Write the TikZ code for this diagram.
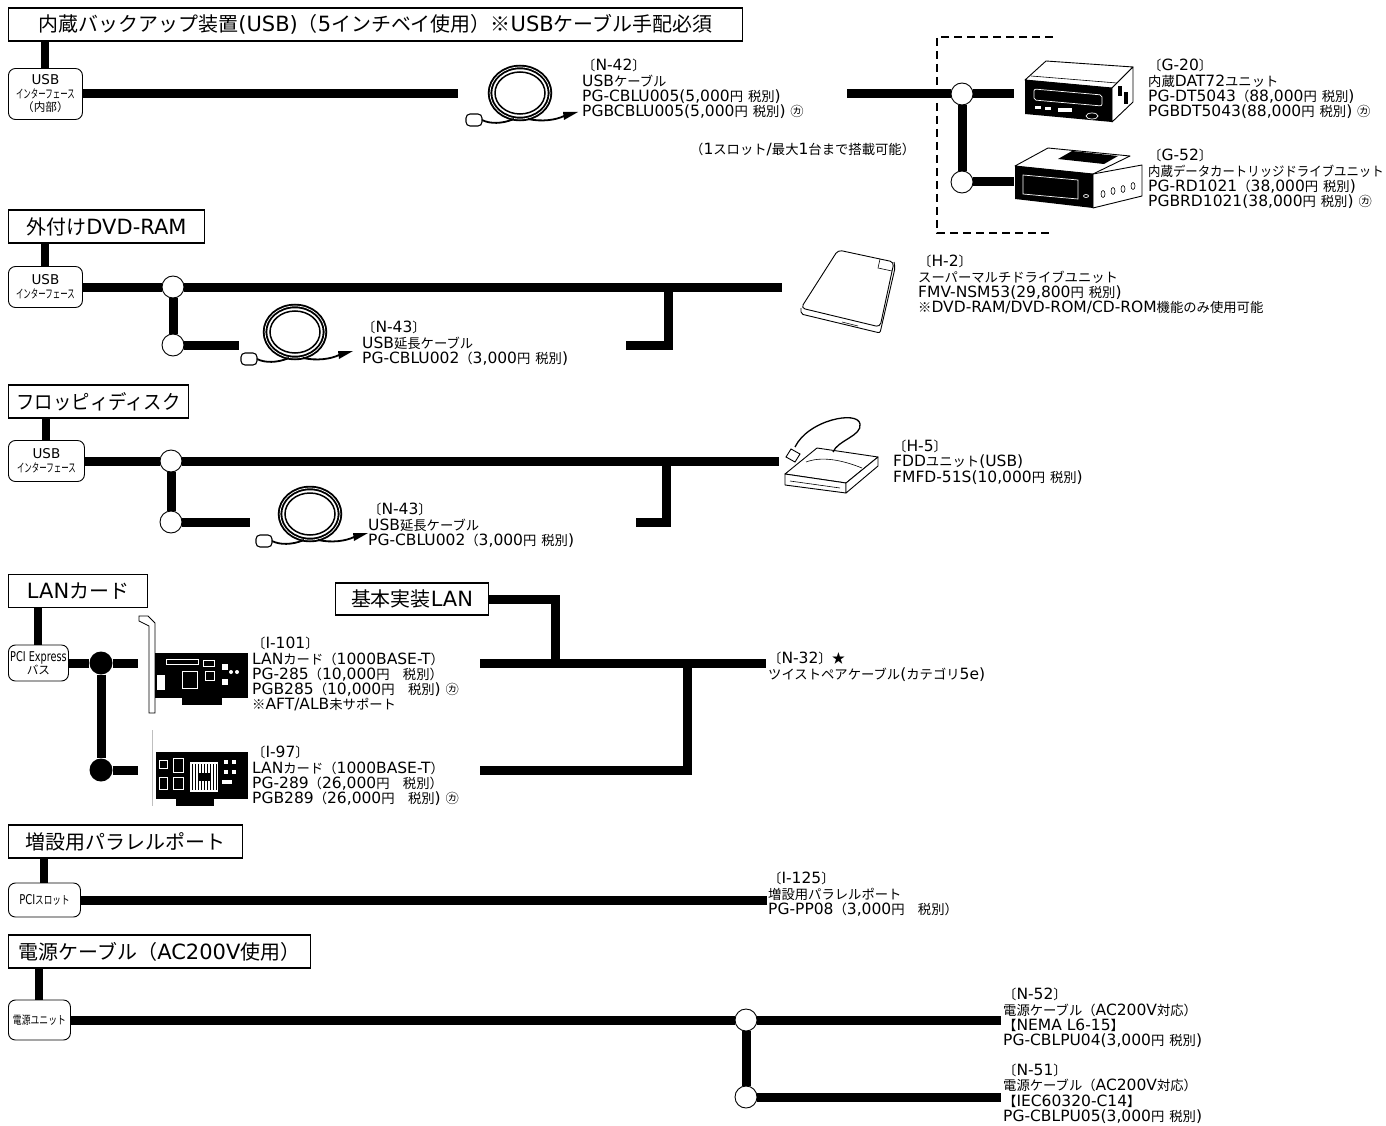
\documentclass[tikz,border=0pt]{standalone}
\usepackage{fontspec}
\setmainfont{DejaVu Sans}
\newfontfamily\jpbody{Noto Sans CJK JP}[Scale=0.86]
\newfontfamily\jphead{Noto Sans CJK JP}[Scale=0.95]
\newcommand\jpsel{\jpbody}
% switch to the Japanese face for every Japanese character
\XeTeXinterchartokenstate=1
\newXeTeXintercharclass\jpclass
\newcount\jpc
\newcommand\setjp[2]{\jpc=#1\relax
  \loop\XeTeXcharclass\jpc=\jpclass\ifnum\jpc<#2\advance\jpc by 1\repeat}
\setjp{"3000}{"30FF}
\setjp{"3200}{"32FF}
\setjp{"4E00}{"9FFF}
\setjp{"FF00}{"FFEF}
\setjp{"203B}{"203B}
\setjp{"2605}{"2605}
\XeTeXinterchartoks 0 \jpclass={\begingroup\jpsel}
\XeTeXinterchartoks 4095 \jpclass={\begingroup\jpsel}
\XeTeXinterchartoks \jpclass 0={\endgroup}
\XeTeXinterchartoks \jpclass 4095={\endgroup}
\newcommand\headfont{\let\jpsel\jphead\fontsize{21}{24}\selectfont}
\newcommand\bodyfont{\fontsize{15.5}{15.3}\selectfont\lineskiplimit=-100pt\lineskip=0pt}
\newcommand\portfont{\fontsize{13.5}{13.5}\selectfont\lineskiplimit=-100pt\lineskip=0pt}
\newcommand\narrow[2][0.72]{\scalebox{#1}[1]{#2}}
\newcommand\ifname{{\fontsize{14}{14}\selectfont\narrow[0.62]{インターフェース}}}
\tikzset{coil/.pic={
    \draw[line width=4.5pt] (0,0) ellipse (30 and 26);
    \draw[white,line width=0.7pt] (0,0) ellipse (30 and 26);
    \draw[line width=1.5pt] (0,0) ellipse (25 and 21);
    \draw[line width=1.8pt] (-6,26) .. controls (-18,31) and (-30,31) .. (-38,27);
    \draw[line width=1.8pt] (8,26) .. controls (22,29) and (36,27) .. (44,23);
    \draw[line width=1.1pt,fill=white,rounded corners=4pt] (-54,21) rectangle (-38,33);
    \fill (43,19) -- (58,19) -- (44,27) -- cycle;
  }}
\begin{document}
\begin{tikzpicture}[x=1pt,y=-1pt,
    head/.style={draw,line width=1.1pt,fill=white,anchor=west,inner sep=0pt,
      minimum height=33pt,font=\headfont},
    port/.style={draw,line width=0.9pt,rounded corners=7pt,anchor=west,
      inner sep=0pt,align=center,font=\portfont},
    info/.style={anchor=north west,inner sep=0pt,align=left,font=\bodyfont},
    bus/.style={line width=9pt},
    stub/.style={line width=8pt},
    joint/.style={circle,draw,fill=white,line width=0.9pt,minimum size=22pt,inner sep=0pt},
    blob/.style={circle,fill=black,minimum size=23pt,inner sep=0pt}]
  \useasboundingbox (0,0) rectangle (1386,1126);

  % internal backup unit
  \node[head,minimum width=734pt] (hd1) at (8,24.5)
    {内蔵バックアップ装置(USB)（5インチベイ使用）※USBケーブル手配必須};
  \node[port,minimum width=74pt,minimum height=51pt] (usb1) at (8,94)
    {USB\\\ifname\\（内部）};
  \draw[stub] (usb1.north) -- (usb1.north |- hd1.south);
  \coordinate (c1a) at (458,94);
  \draw[bus] (usb1) -- (c1a);
  \pic at (520,93) {coil};
  \node[info] (n42) at (582,59)
    {〔N-42〕\\USBケーブル\\PG-CBLU005(5,000円 税別)\\PGBCBLU005(5,000円 税別) ㋕};
  \coordinate (c1b) at (847,94);
  \node[joint] (j1a) at (962,94) {};
  \node[joint] (j1b) at (962,182) {};
  \coordinate (c1c) at (1014,94);
  \coordinate (c1d) at (1014,182);
  \draw[bus] (c1b) -- (j1a) -- (c1c);
  \draw[bus] (j1a) -- (j1b) -- (c1d);
  \draw[line width=1.2pt,dash pattern=on 8pt off 5pt] (1053,37) -| (937,233) -- (1053,233);
  \node[font=\bodyfont,anchor=west,inner sep=0pt] (slot) at (690,150)
    {（1スロット/最大1台まで搭載可能）};
  % DAT unit
  \draw[line width=0.9pt,fill=white,line join=round] (1025,80) -- (1046,61) -- (1133,67) -- (1112,88) -- cycle;
  \draw[line width=0.6pt] (1031,76) -- (1117,83);
  \draw[line width=0.9pt,fill=white,line join=round] (1112,88) -- (1133,67) -- (1133,102) -- (1112,122) -- cycle;
  \fill (1118,86) rectangle (1122,96);
  \fill (1124,92) rectangle (1128,104);
  \fill (1025,80) -- (1112,88) -- (1112,122) -- (1025,114) -- cycle;
  \draw[white,line width=0.7pt,rounded corners=2pt] (1034,89) -- (1102,95) -- (1102,106) -- (1034,100) -- cycle;
  \fill[white] (1035,106) rectangle (1041,109);
  \fill[white] (1045,107) rectangle (1051,110);
  \fill[white] (1058,108) rectangle (1072,112);
  \draw[white,line width=0.7pt] (1092,116) ellipse (6 and 3);
  % cartridge unit
  \draw[line width=0.9pt,fill=white,line join=round] (1015,166) -- (1048,148) -- (1130,156) -- (1093,174) -- cycle;
  \fill (1072,151) -- (1118,156) -- (1104,164) -- (1058,159) -- cycle;
  \draw[line width=0.9pt,fill=white,line join=round] (1093,174) -- (1142,165) -- (1142,196) -- (1093,208) -- cycle;
  \foreach \hx/\hy in {1103/194,1113/191,1123/189,1133/186}
    \draw[line width=0.6pt] (\hx,\hy) ellipse (2 and 3.5);
  \fill (1015,166) -- (1093,174) -- (1093,208) -- (1015,199) -- cycle;
  \draw[white,line width=0.7pt] (1023,175) -- (1078,180) -- (1078,199) -- (1023,194) -- cycle;
  \draw[white,line width=0.7pt] (1086,196) ellipse (2.5 and 1.5);
  \node[info] (g20) at (1148,59)
    {〔G-20〕\\内蔵DAT72ユニット\\PG-DT5043（88,000円 税別)\\PGBDT5043(88,000円 税別) ㋕};
  \node[info] (g52) at (1148,149)
    {〔G-52〕\\\narrow[0.93]{内蔵データカートリッジドライブユニット}\\PG-RD1021（38,000円 税別)\\PGBRD1021(38,000円 税別) ㋕};

  % external DVD-RAM
  \node[head,minimum width=196pt] (hd2) at (8,226.5) {外付けDVD-RAM};
  \node[port,minimum width=74pt,minimum height=41pt] (usb2) at (8,287)
    {USB\\\ifname};
  \draw[stub] (usb2.north) -- (usb2.north |- hd2.south);
  \node[joint] (j2a) at (173,287) {};
  \node[joint] (j2b) at (173,345) {};
  \coordinate (c2a) at (782,287);
  \coordinate (c2b) at (239,345);
  \coordinate (t2a) at (668,287);
  \coordinate (t2b) at (626,345);
  \draw[bus] (usb2) -- (j2a) -- (c2a);
  \draw[bus] (j2a) -- (j2b) -- (c2b);
  \draw[bus] (t2a) |- (t2b);
  \pic at (295,332) {coil};
  \node[info] (n43a) at (362,321)
    {〔N-43〕\\USB延長ケーブル\\PG-CBLU002（3,000円 税別)};
  \draw[line width=0.9pt,fill=white,rounded corners=4pt] (838,250) -- (894,262) -- (880,327) -- (801,308) -- cycle;
  \draw[line width=0.9pt,rounded corners=2pt] (801,308) -- (801,314) -- (880,333) -- (895,268) -- (894,262);
  \draw[line width=0.6pt] (880,259) -- (878,268) -- (892,271);
  \draw[line width=0.6pt] (842,322) -- (858,326);
  \node[info] (h2) at (918,255)
    {〔H-2〕\\スーパーマルチドライブユニット\\FMV-NSM53(29,800円 税別)\\※DVD-RAM/DVD-ROM/CD-ROM機能のみ使用可能};

  % floppy disk
  \node[head,minimum width=180pt] (hd3) at (8,401.5) {\narrow[0.92]{フロッピィディスク}};
  \node[port,minimum width=76pt,minimum height=41pt] (usb3) at (8,461)
    {USB\\\ifname};
  \draw[stub] (usb3.north) -- (usb3.north |- hd3.south);
  \node[joint] (j3a) at (171,461) {};
  \node[joint] (j3b) at (171,522) {};
  \coordinate (c3a) at (779,461);
  \coordinate (c3b) at (250,522);
  \coordinate (t3a) at (666,461);
  \coordinate (t3b) at (636,522);
  \draw[bus] (usb3) -- (j3a) -- (c3a);
  \draw[bus] (j3a) -- (j3b) -- (c3b);
  \draw[bus] (t3a) |- (t3b);
  \pic at (310,514) {coil};
  \node[info] (n43b) at (368,503)
    {〔N-43〕\\USB延長ケーブル\\PG-CBLU002（3,000円 税別)};
  \draw[line width=0.9pt,fill=white,line join=round] (785,474) -- (817,448) -- (878,457) -- (846,483) -- cycle;
  \draw[line width=0.9pt,fill=white,line join=round] (785,474) -- (846,483) -- (846,493) -- (785,485) -- cycle;
  \draw[line width=0.9pt,fill=white,line join=round] (846,483) -- (878,457) -- (878,466) -- (846,493) -- cycle;
  \draw[line width=0.6pt] (790,481) -- (840,488);
  \draw[line width=0.6pt] (806,462) .. controls (822,456) and (842,460) .. (862,468);
  \draw[line width=1.3pt] (795,447) .. controls (808,420) and (858,410) .. (860,424)
    .. controls (862,436) and (838,440) .. (833,452);
  \draw[line width=0.9pt,fill=white] (786,457) -- (791,449) -- (800,454) -- (795,462) -- cycle;
  \node[info] (h5) at (893,440)
    {〔H-5〕\\FDDユニット(USB)\\FMFD-51S(10,000円 税別)};

  % LAN cards
  \node[head,minimum width=139pt] (hd4) at (8,591) {LANカード};
  \node[port,minimum width=60pt,minimum height=36pt] (pcie) at (8,663)
    {\narrow[0.72]{PCI Express}\\バス};
  \draw[stub] (pcie.north) -- (pcie.north |- hd4.south);
  \node[blob] (d4a) at (101,663) {};
  \node[blob] (d4b) at (101,770) {};
  \coordinate (c4a) at (138,663);
  \coordinate (c4b) at (138,770);
  \draw[bus] (pcie) -- (d4a) -- (c4a);
  \draw[bus] (d4a) -- (d4b) -- (c4b);
  % I-101 card
  \draw[line width=0.8pt,fill=white] (139,616) -- (148,616) -- (155,623) -- (155,713) -- (149,713) -- (149,626) -- (139,621) -- cycle;
  \fill (155,653) rectangle (248,698);
  \fill (182,698) rectangle (222,705);
  \draw[white,line width=0.8pt] (166,659) rectangle (198,664);
  \draw[white,line width=0.8pt] (182,671) rectangle (197,688);
  \draw[white,line width=0.8pt] (203,660) rectangle (214,666);
  \draw[white,line width=0.8pt] (205,671) rectangle (214,680);
  \fill[white] (157,675) rectangle (165,690);
  \fill[white] (222,664) rectangle (228,670);
  \fill[white] (222,679) rectangle (228,685);
  \fill[white] (231,672) circle (2);
  \fill[white] (237,672) circle (2);
  % I-97 card
  \draw[black!25,line width=1pt] (152,730) -- (152,806);
  \fill (156,752) rectangle (248,799);
  \fill (176,799) rectangle (214,806);
  \fill[white] (190,762) rectangle (218,792);
  \foreach \sx in {192,195,...,216}
    \draw[line width=0.8pt] (\sx,764) -- (\sx,790);
  \fill (198,773) rectangle (210,781);
  \draw[white,line width=0.8pt] (159,760) rectangle (167,768);
  \draw[white,line width=0.8pt] (159,777) rectangle (167,789);
  \draw[white,line width=0.8pt] (173,758) rectangle (183,772);
  \draw[white,line width=0.8pt] (173,777) rectangle (183,789);
  \fill[white] (224,760) rectangle (228,764);
  \fill[white] (232,760) rectangle (236,764);
  \fill[white] (224,770) rectangle (228,774);
  \fill[white] (232,770) rectangle (236,774);
  \fill[white] (222,780) rectangle (232,784);
  \node[info] (i101) at (252,637)
    {〔I-101〕\\LANカード（1000BASE-T）\\PG-285（10,000円　税別）\\PGB285（10,000円　税別) ㋕\\※AFT/ALB未サポート};
  \node[info] (i97) at (252,746)
    {〔I-97〕\\LANカード（1000BASE-T）\\PG-289（26,000円　税別）\\PGB289（26,000円　税別) ㋕};
  \node[head,minimum width=153pt,minimum height=32pt] (lan0) at (335,599) {基本実装LAN};
  \coordinate (k4a) at (555,663);
  \coordinate (k4b) at (687,663);
  \coordinate (c4c) at (480,663);
  \coordinate (c4d) at (766,663);
  \coordinate (c4e) at (480,770);
  \draw[bus] (lan0) -| (k4a);
  \draw[bus] (c4c) -- (c4d);
  \draw[bus] (c4e) -| (k4b);
  \node[info] (n32) at (768,652)
    {〔N-32〕★\\ツイストペアケーブル(カテゴリ5e)};

  % parallel port
  \node[head,minimum width=234pt] (hd5) at (8,841.5) {増設用パラレルポート};
  \node[port,minimum width=72pt,minimum height=34pt] (pci) at (8,900)
    {\narrow[0.74]{PCIスロット}};
  \draw[stub] (pci.north) -- (pci.north |- hd5.south);
  \coordinate (c5) at (767,900);
  \draw[bus] (pci) -- (c5);
  \node[info] (i125) at (768,872)
    {〔I-125〕\\増設用パラレルポート\\PG-PP08（3,000円　税別）};

  % power cables
  \node[head,minimum width=302pt] (hd6) at (8,951.5) {電源ケーブル（AC200V使用）};
  \node[port,minimum width=62pt,minimum height=40pt] (psu) at (8,1020)
    {\narrow[0.76]{電源ユニット}};
  \draw[stub] (psu.north) -- (psu.north |- hd6.south);
  \node[joint] (j6a) at (746,1020) {};
  \node[joint] (j6b) at (746,1097) {};
  \coordinate (c6a) at (1001,1020);
  \coordinate (c6b) at (1001,1097);
  \draw[bus] (psu) -- (j6a) -- (c6a);
  \draw[bus] (j6a) -- (j6b) -- (c6b);
  \node[info] (n52) at (1003,988)
    {〔N-52〕\\電源ケーブル（AC200V対応）\\【NEMA L6-15】\\PG-CBLPU04(3,000円 税別)};
  \node[info] (n51) at (1003,1064)
    {〔N-51〕\\電源ケーブル（AC200V対応）\\【IEC60320-C14】\\PG-CBLPU05(3,000円 税別)};
\end{tikzpicture}
\end{document}
